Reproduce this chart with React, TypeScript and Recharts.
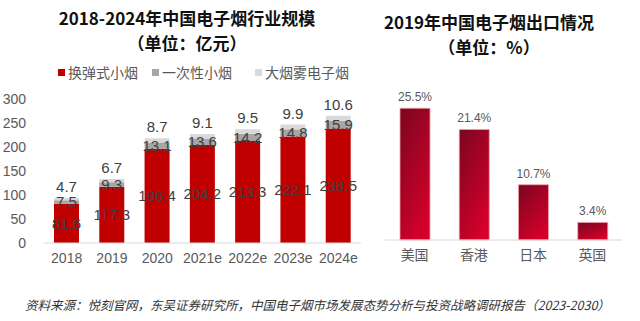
import React from "react";
import { BarChart, Bar, XAxis, YAxis, LabelList } from "recharts";

// ---- left: market size (亿元) ----
const years = ["2018", "2019", "2020", "2021e", "2022e", "2023e", "2024e"];
const refill = [81.6, 117.3, 196.4, 204.2, 213.3, 222.1, 238.5];
const disposable = [7.5, 9.3, 13.1, 13.6, 14.2, 14.8, 15.9];
const bigVapor = [4.7, 6.7, 8.7, 9.1, 9.5, 9.9, 10.6];
const sizeTicks = [0, 50, 100, 150, 200, 250, 300];

// ---- right: 2019 export share (%) ----
const regions = ["美国", "香港", "日本", "英国"];
const exportShare = [25.5, 21.4, 10.7, 3.4];

const sizeData = years.map((y, i) => ({
  year: y,
  refill: refill[i],
  disposable: disposable[i],
  bigVapor: bigVapor[i],
}));

const exportData = regions.map((r, i) => ({ region: r, share: exportShare[i] }));

const FONT = "Arial, 'Liberation Sans', 'Noto Sans CJK SC', sans-serif";
const CJK = "'Noto Sans CJK SC', 'Liberation Sans', sans-serif";
const LABEL = "#404040";
const AXIS = "#595959";

const legendItems = [
  { name: "换弹式小烟", color: "#c00000", x: 58 },
  { name: "一次性小烟", color: "#a6a6a6", x: 152 },
  { name: "大烟雾电子烟", color: "#d9d9d9", x: 255 },
];

const abs = (x: number, y: number): React.CSSProperties => ({ position: "absolute", left: x, top: y });

const titleStyle: React.CSSProperties = {
  textAlign: "center", fontWeight: 700, fontSize: 17, lineHeight: "25px", color: "#111", whiteSpace: "nowrap",
};

export default function App() {
  return (
    <div style={{ position: "fixed", left: 0, top: 0, width: 640, height: 321, background: "#fff", overflow: "hidden", fontFamily: CJK }}>
      {/* titles */}
      <div style={{ ...abs(0, 5), width: 374, ...titleStyle }}>
        <div>2018-2024年中国电子烟行业规模</div>
        <div>（单位：亿元）</div>
      </div>
      <div style={{ ...abs(359, 9), width: 260, ...titleStyle }}>
        <div>2019年中国电子烟出口情况</div>
        <div>（单位：%）</div>
      </div>

      {/* legend */}
      {legendItems.map((l) => (
        <div key={l.name} style={{ ...abs(l.x, 63), display: "flex", alignItems: "center", fontSize: 14, color: AXIS, lineHeight: "18px" }}>
          <div style={{ width: 7, height: 7, background: l.color, marginRight: 3 }} />
          {l.name}
        </div>
      ))}

      {/* left chart */}
      <div style={abs(0, 0)}>
        <BarChart width={370} height={275} data={sizeData} margin={{ top: 99, right: 9, bottom: 0, left: 0 }} barSize={25}>
          <XAxis dataKey="year" axisLine={{ stroke: "#d9d9d9" }} tickLine={false} height={32} tickMargin={4}
            tick={{ fontSize: 14, fill: AXIS, fontFamily: FONT }} interval={0} />
          <YAxis width={44} domain={[0, 300]} ticks={sizeTicks} axisLine={false} tickLine={false} tickMargin={12}
            tick={{ fontSize: 14, fill: AXIS, fontFamily: FONT }} />
          <Bar dataKey="refill" stackId="s" fill="#c00000" isAnimationActive={false}>
            <LabelList dataKey="refill" position="center" fill={LABEL} fontSize={15} fontFamily={FONT} />
          </Bar>
          <Bar dataKey="disposable" stackId="s" fill="#a6a6a6" isAnimationActive={false}>
            <LabelList dataKey="disposable" position="center" fill={LABEL} fontSize={15} fontFamily={FONT} />
          </Bar>
          <Bar dataKey="bigVapor" stackId="s" fill="#d9d9d9" isAnimationActive={false}>
            <LabelList dataKey="bigVapor" position="top" offset={6} fill={LABEL} fontSize={15} fontFamily={FONT} />
          </Bar>
        </BarChart>
      </div>

      {/* right chart */}
      <div style={abs(380, 0)}>
        <svg width={0} height={0} style={{ position: "absolute" }}>
          <defs>
            <linearGradient id="exportGrad" x1="0" y1="0" x2="0.6" y2="1">
              <stop offset="0%" stopColor="#7a0620" />
              <stop offset="100%" stopColor="#d2002a" />
            </linearGradient>
          </defs>
        </svg>
        <BarChart width={250} height={270} data={exportData} margin={{ top: 85, right: 8, bottom: 0, left: 5 }} barSize={30}>
          <XAxis dataKey="region" axisLine={{ stroke: "#d9d9d9" }} tickLine={false} height={30} tickMargin={4}
            tick={{ fontSize: 14, fill: AXIS, fontFamily: CJK }} interval={0} />
          <YAxis hide domain={[0, 30]} />
          <Bar dataKey="share" fill="url(#exportGrad)" stroke="#f3a0aa" strokeWidth={0.8} isAnimationActive={false}>
            <LabelList dataKey="share" position="top" offset={7} fill={AXIS} fontSize={12} fontFamily={FONT}
              formatter={(v: any) => `${v}%`} />
          </Bar>
        </BarChart>
      </div>

      {/* source */}
      <div style={{ ...abs(25, 295), fontSize: 12.5, fontStyle: "italic", color: "#333", whiteSpace: "nowrap" }}>
        资料来源：悦刻官网，东吴证券研究所，中国电子烟市场发展态势分析与投资战略调研报告（2023-2030）
      </div>
    </div>
  );
}
